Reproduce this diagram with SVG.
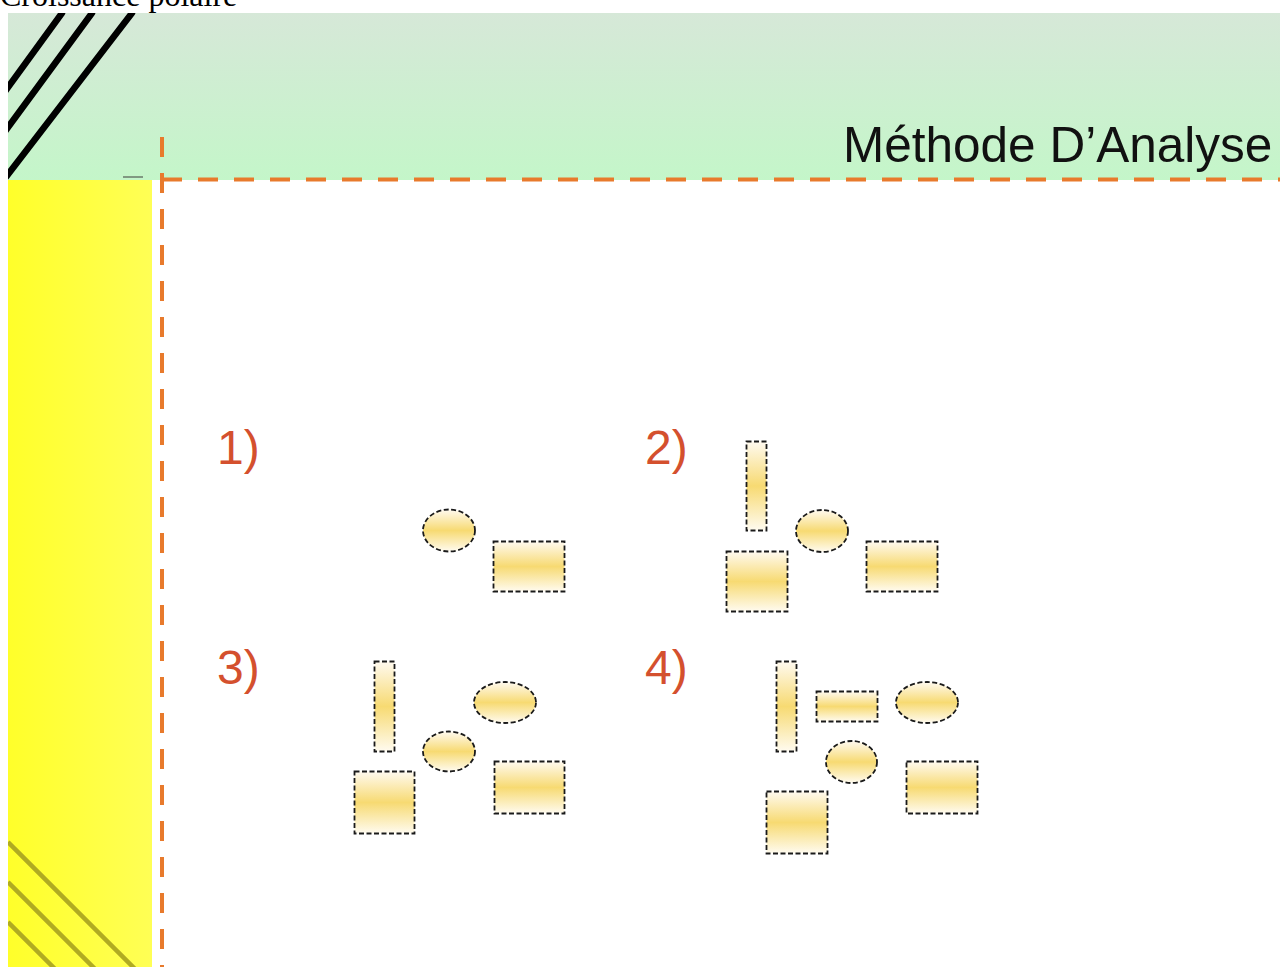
<svg xmlns="http://www.w3.org/2000/svg" width="1280" height="967" viewBox="0 0 1280 967">
<defs>
<linearGradient id="hdr" x1="0" y1="0" x2="0" y2="1">
<stop offset="0" stop-color="#d6e8d8"/>
<stop offset="1" stop-color="#c4f6c9"/>
</linearGradient>
<linearGradient id="yel" x1="0" y1="0" x2="1" y2="0">
<stop offset="0" stop-color="#ffff2a"/>
<stop offset="1" stop-color="#ffff55"/>
</linearGradient>
<linearGradient id="fill" x1="0" y1="0" x2="0" y2="1">
<stop offset="0" stop-color="#fffaf0"/>
<stop offset="0.5" stop-color="#f7da72"/>
<stop offset="1" stop-color="#fffbf0"/>
</linearGradient>
<clipPath id="slide"><rect x="8" y="13" width="1272" height="954"/></clipPath>
</defs>
<style>
.shp{fill:url(#fill);stroke:#1a1a1a;stroke-width:1.8;stroke-dasharray:5 2.5}
.lbl{font-family:"Liberation Sans",Arial,sans-serif;font-size:48px;fill:#d4502e}
.dash{stroke:#e87a2c;stroke-width:4;stroke-dasharray:20 16;fill:none}
</style>
<rect width="1280" height="967" fill="#ffffff"/>
<text x="0" y="5.5" font-family="'Liberation Serif','Times New Roman',serif" font-size="32" fill="#000">Croissance polaire</text>
<g id="background" clip-path="url(#slide)">
<rect x="8" y="13" width="1272" height="954" fill="#ffffff"/>
<rect x="8" y="13" width="1272" height="167" fill="url(#hdr)"/>
<rect x="8" y="180" width="144" height="787" fill="url(#yel)"/>
<g stroke="#000" stroke-width="6.5" stroke-linecap="round">
<line x1="6" y1="90" x2="62" y2="13"/>
<line x1="6" y1="130" x2="92" y2="13"/>
<line x1="6" y1="177" x2="132" y2="13"/>
</g>
<g stroke="#b0ab22" stroke-width="4.5">
<line x1="8" y1="842" x2="135" y2="969"/>
<line x1="8" y1="882" x2="95" y2="969"/>
<line x1="8" y1="922" x2="55" y2="969"/>
</g>
<line x1="123" y1="177" x2="143" y2="177" stroke="#6a7a6a" stroke-width="1.5"/>
</g>
<g id="connectors">
<line class="dash" x1="162" y1="137" x2="162" y2="967"/>
<line class="dash" x1="160" y1="179.5" x2="1280" y2="179.5" stroke-dasharray="21 16" stroke-dashoffset="-2"/>
</g>
<g id="title">
<text x="843" y="162" font-family="'Liberation Sans',Arial,sans-serif" font-size="49.5" fill="#111">Méthode D’Analyse</text>
</g>
<g id="step1">
<text class="lbl" x="217" y="464">1)</text>
<ellipse class="shp" cx="449" cy="530.5" rx="26" ry="21"/>
<rect class="shp" x="493.5" y="541.5" width="71" height="50"/>
</g>
<g id="step2">
<text class="lbl" x="645" y="464">2)</text>
<rect class="shp" x="746.5" y="441.5" width="20" height="89"/>
<ellipse class="shp" cx="822" cy="531" rx="26" ry="21"/>
<rect class="shp" x="726.5" y="551.5" width="61" height="60"/>
<rect class="shp" x="866.5" y="541.5" width="71" height="50"/>
</g>
<g id="step3">
<text class="lbl" x="217" y="684">3)</text>
<rect class="shp" x="374.5" y="661.5" width="20" height="90"/>
<ellipse class="shp" cx="505" cy="702.5" rx="31" ry="20.5"/>
<ellipse class="shp" cx="449" cy="751.5" rx="26" ry="20"/>
<rect class="shp" x="354.5" y="771.5" width="60" height="62"/>
<rect class="shp" x="494.5" y="761.5" width="70" height="52"/>
</g>
<g id="step4">
<text class="lbl" x="645" y="684">4)</text>
<rect class="shp" x="776.5" y="661.5" width="20" height="90"/>
<rect class="shp" x="816.5" y="691.5" width="61" height="30"/>
<ellipse class="shp" cx="927" cy="702.5" rx="31" ry="20.5"/>
<ellipse class="shp" cx="851.5" cy="762" rx="25.5" ry="21"/>
<rect class="shp" x="766.5" y="791.5" width="61" height="62"/>
<rect class="shp" x="906.5" y="761.5" width="71" height="52"/>
</g>
</svg>
